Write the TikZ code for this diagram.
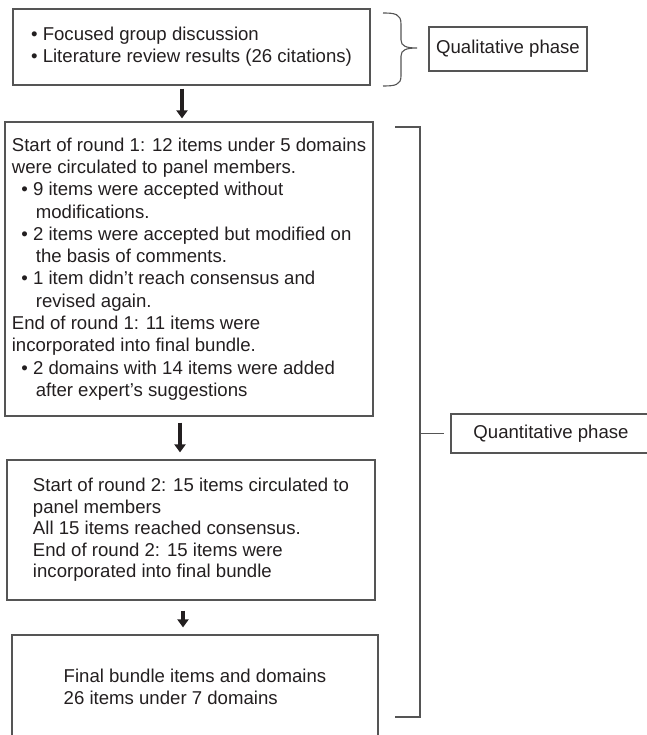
\documentclass[tikz,border=0pt]{standalone}
\usepackage{fontspec}
\setmainfont{Liberation Sans}
\usetikzlibrary{arrows.meta}
\definecolor{linec}{RGB}{85,85,85}
\definecolor{txtc}{RGB}{35,31,32}
\begin{document}
\begin{tikzpicture}[x=1pt,y=-1pt,
  boxn/.style={draw=linec,line width=1.2pt,rectangle,align=left,inner sep=0pt,
    text=txtc,font=\fontsize{18.6}{22.3}\selectfont},
  arr/.style={draw=txtc,line width=4.5pt,-{Triangle[length=8pt,width=11pt]}},
  brk/.style={draw=linec,line width=1.2pt}]
\useasboundingbox (0,0) rectangle (646,735);

\node[boxn,minimum width=357pt,minimum height=76pt] (b1) at (191.5,47)
  {• Focused group discussion\\• Literature review results (26 citations)};

\node[boxn,minimum width=368pt,minimum height=294pt] (b2) at (189,269)
  {Start of round 1: 12 items under 5 domains\\
   were circulated to panel members.\\
   \hspace*{9.5pt}• 9 items were accepted without\\
   \hspace*{24pt}modifications.\\
   \hspace*{9.5pt}• 2 items were accepted but modified on\\
   \hspace*{24pt}the basis of comments.\\
   \hspace*{9.5pt}• 1 item didn’t reach consensus and\\
   \hspace*{24pt}revised again.\\
   End of round 1: 11 items were\\
   incorporated into final bundle.\\
   \hspace*{9.5pt}• 2 domains with 14 items were added\\
   \hspace*{24pt}after expert’s suggestions};

\node[boxn,minimum width=368pt,minimum height=140pt,font=\fontsize{18.6}{21.5}\selectfont] (b3) at (191,530)
  {Start of round 2: 15 items circulated to\\
   panel members\\
   All 15 items reached consensus.\\
   End of round 2: 15 items were\\
   incorporated into final bundle};

\node[boxn,minimum width=366pt,minimum height=104pt] (b4) at (195,687)
  {Final bundle items and domains\\26 items under 7 domains};

\node[boxn,align=center,minimum width=158pt,minimum height=44pt] (qual) at (508,49)
  {Qualitative phase};

\node[boxn,align=center,minimum width=200pt,minimum height=39pt] (quant) at (551,433.5)
  {Quantitative phase};

% arrows
\draw[arr,shorten <=3pt,shorten >=3pt] ([xshift=-9.5pt]b1.south) -- ([xshift=-9.5pt]b1.south |- b2.north);
\draw[arr,shorten <=6pt,shorten >=7pt] ([xshift=-9pt]b2.south) -- ([xshift=-9pt]b2.south |- b3.north);
\draw[arr,shorten <=10pt,shorten >=7pt] ([xshift=-8pt]b3.south) -- ([xshift=-8pt]b3.south |- b4.north);

% curly brace for qualitative phase
\draw[brk,line width=1.1pt] (383,13) .. controls (395,13) and (401,14) .. (401,24)
  -- (401,40) .. controls (401,46) and (406,48) .. (417,48)
  .. controls (406,48) and (401,50) .. (401,56)
  -- (401,76) .. controls (401,85) and (395,86) .. (383,86);

% square bracket for quantitative phase
\coordinate (qt) at (395,127);
\coordinate (qb) at (395,717);
\coordinate (qm) at (420,433.5);
\draw[brk] (qt) -- (420,127) -- (420,717) -- (qb);
\draw[brk] (qm) -- ([xshift=-6pt]quant.west);
\end{tikzpicture}
\end{document}
